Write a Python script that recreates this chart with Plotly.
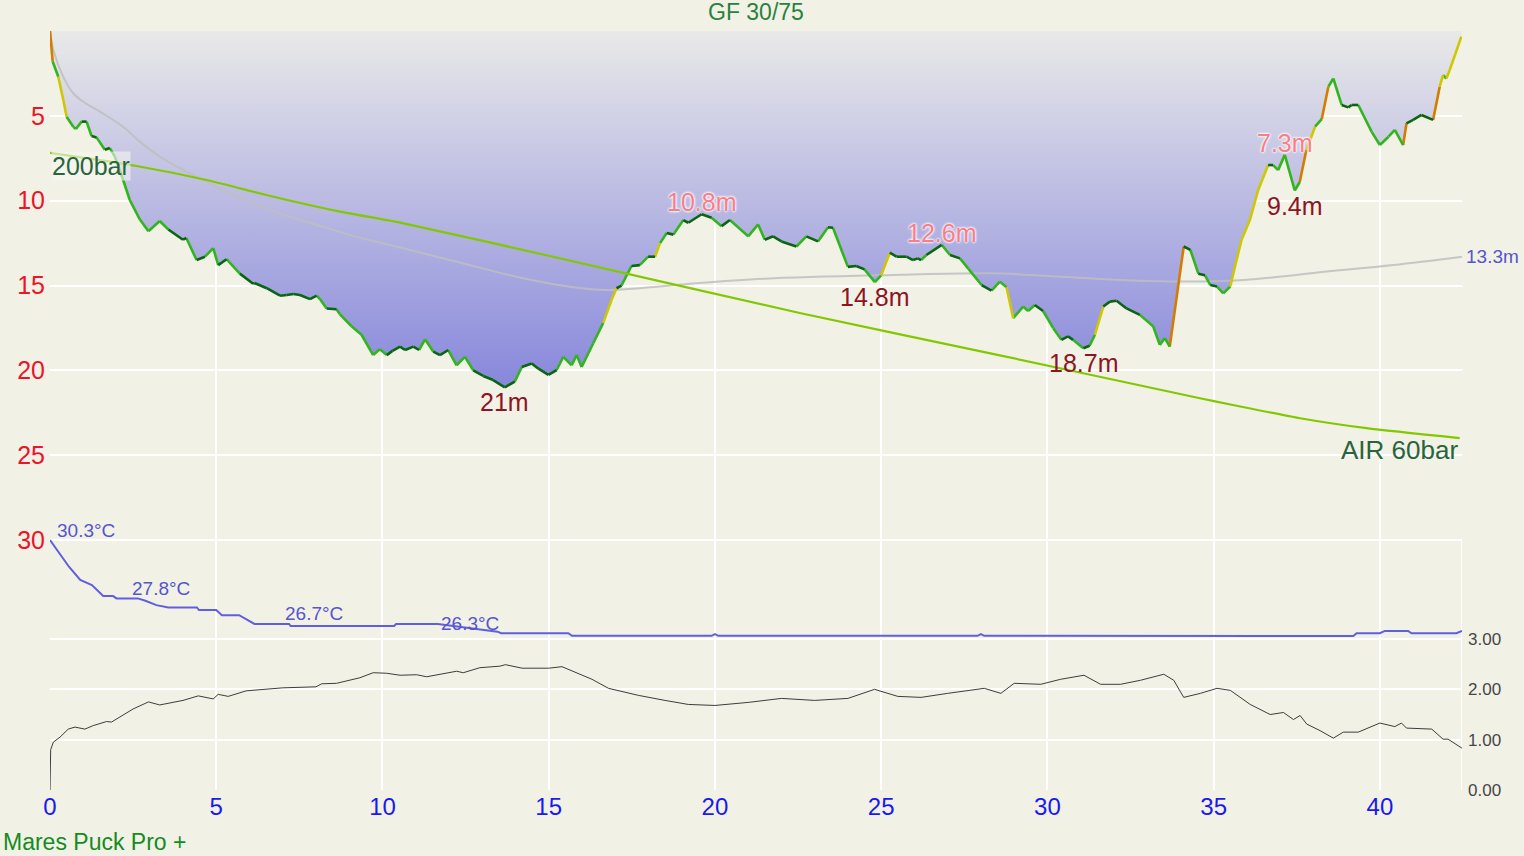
import plotly.graph_objects as go

# ---------------- data ----------------
time_min = [0, 0.08, 0.25, 0.4, 0.5, 0.7, 0.78, 0.95, 1.1, 1.25, 1.4, 1.65, 1.8, 1.95, 2.2, 2.4, 2.7, 2.96,
            3.3, 3.56, 4.0, 4.1, 4.41, 4.66, 4.91, 5.06, 5.31, 5.71, 6.11, 6.15, 6.52, 6.92, 7.12, 7.32, 7.52,
            7.82, 8.02, 8.12, 8.32, 8.62, 8.72, 9.07, 9.37, 9.72, 9.92, 10.13, 10.3, 10.53, 10.68, 10.93, 11.1,
            11.28, 11.53, 11.73, 11.98, 12.23, 12.48, 12.73, 13.03, 13.33, 13.68, 13.98, 14.19, 14.49, 14.69,
            14.99, 15.24, 15.44, 15.69, 15.84, 15.99, 16.34, 16.64, 16.89, 17.04, 17.19, 17.49, 17.74, 17.99,
            18.2, 18.35, 18.55, 18.75, 19.05, 19.2, 19.6, 19.9, 20.2, 20.45, 21.0, 21.3, 21.5, 21.75, 22.0,
            22.45, 22.75, 23.1, 23.4, 23.55, 24.0, 24.25, 24.5, 24.81, 25.0, 25.26, 25.46, 25.76, 25.96, 26.1,
            26.2, 26.36, 26.82, 27.07, 27.37, 27.62, 28.02, 28.32, 28.57, 28.77, 28.97, 29.27, 29.42, 29.62,
            29.87, 30.17, 30.42, 30.62, 30.77, 31.08, 31.27, 31.43, 31.68, 31.88, 32.08, 32.38, 32.78, 33.18,
            33.38, 33.53, 33.68, 34.1, 34.3, 34.54, 34.74, 34.9, 35.1, 35.29, 35.5, 35.69, 35.84, 36.09, 36.34,
            36.64, 36.79, 36.94, 37.14, 37.44, 37.59, 37.79, 38.05, 38.25, 38.45, 38.6, 38.85, 39.05, 39.15,
            39.35, 39.75, 40.0, 40.26, 40.45, 40.7, 40.8, 41.0, 41.25, 41.6, 41.8, 41.9, 42.0, 42.1, 42.26, 42.45]
depth_m = [0, 1.8, 2.7, 4.07, 5.05, 5.64, 5.78, 5.34, 5.34, 6.19, 6.27, 7.0, 6.9, 7.4, 8.78, 9.96, 11.1, 11.8,
           11.2, 11.7, 12.3, 12.2, 13.5, 13.3, 12.8, 13.8, 13.45, 14.3, 14.9, 14.85, 15.16, 15.6, 15.56, 15.5, 15.56,
           15.8, 15.6, 15.8, 16.35, 16.4, 16.7, 17.4, 17.9, 19.1, 18.76, 19.1, 18.85, 18.6, 18.8, 18.6, 18.8,
           18.17, 18.9, 19.1, 18.8, 19.7, 19.2, 20.0, 20.33, 20.57, 21.0, 20.66, 19.8, 19.6, 19.9,
           20.27, 19.98, 19.2, 19.7, 19.1, 19.8, 18.4, 17.2, 15.85, 15.16, 15.0, 13.85, 13.8, 13.3,
           13.3, 12.5, 11.9, 12.0, 11.14, 11.3, 10.8, 11.0, 11.5, 11.14, 12.1, 11.4, 12.3, 12.1, 12.4,
           12.7, 12.1, 12.4, 11.57, 11.6, 13.9, 13.85, 14.05, 14.8, 14.4, 13.06, 13.3, 13.3, 13.5, 13.4,
           13.5, 13.2, 12.6, 13.2, 13.4, 14.0, 14.97, 15.3, 14.77, 15.1, 16.93, 16.24, 16.5, 16.15,
           16.5, 17.5, 18.2, 18.0, 18.2, 18.7, 18.55, 17.9, 16.24, 15.95, 15.9, 16.35, 16.73, 17.4,
           18.5, 18.1, 18.6, 12.7, 12.9, 14.3, 14.4, 14.97, 15.06, 15.46, 15.06, 13.5, 12.3, 11.14, 9.37,
           7.9, 7.9, 8.2, 7.3, 9.4, 8.9, 7.0, 5.64, 5.2, 3.28, 2.8, 4.36, 4.5, 4.36,
           4.36, 5.93, 6.72, 6.23, 5.83, 6.72, 5.44, 5.24, 4.95, 5.24, 3.28, 2.6, 2.8, 2.3, 1.41, 0.33]

mean_time = [0, 0.1, 0.4, 0.7, 1.0, 1.5, 2.2, 2.7, 3.3, 4.2, 5.2, 6.2, 7.2, 8.2, 9.2, 10.2, 12.23, 14.23, 15.74,
             16.74, 17.74, 19.25, 21.5, 25.36, 28.37, 30.38, 33.4, 35.9, 38.4, 40.4, 42.47]
mean_depth = [0, 1.1, 2.7, 3.67, 4.17, 4.75, 5.64, 6.52, 7.4, 8.39, 9.37, 10.25, 10.94, 11.53, 12.12, 12.6, 13.6,
              14.57, 15.1, 15.26, 15.16, 14.9, 14.6, 14.38, 14.28, 14.48, 14.75, 14.67, 14.18, 13.79, 13.3]

temp_time = [0, 0.57, 0.91, 1.26, 1.6, 1.9, 2.0, 2.64, 2.87, 3.2, 3.56, 4.42, 4.48, 5.0, 5.17, 5.69, 6.15, 7.19,
             7.24, 10.35, 10.41, 11.67, 13.46, 13.57, 15.59, 15.7, 19.9, 20.0, 20.1, 27.9, 28.0, 28.1, 39.2,
             39.3, 40.0, 40.15, 40.85, 40.95, 42.3, 42.47]
temp_c = [30.3, 29.15, 28.58, 28.36, 27.89, 27.89, 27.79, 27.79, 27.69, 27.5, 27.4, 27.4, 27.29, 27.29, 27.07,
          27.07, 26.69, 26.69, 26.6, 26.6, 26.69, 26.69, 26.36, 26.29, 26.29, 26.18, 26.18, 26.25, 26.18, 26.18,
          26.25, 26.18, 26.17, 26.29, 26.29, 26.39, 26.39, 26.29, 26.29, 26.39]

press_time = [0, 2.6, 4.71, 6.72, 8.72, 10.53, 15.03, 22.55, 28.57, 34.59, 35.58, 37.6, 39.6, 42.4]
press_bar = [200, 193.6, 186.7, 178.5, 171.2, 165.8, 149.4, 121.4, 100.6, 79.5, 76.2, 69.7, 64.8, 59.9]

pn2_time = [0, 0.02, 0.1, 0.3, 0.55, 0.75, 1.05, 1.3, 1.7, 1.85, 2.5, 2.96, 3.3, 4.0, 4.46, 4.91, 5.06, 5.36,
            5.9, 6.5, 7.0, 8.0, 8.17, 8.62, 9.32, 9.72, 10.12, 10.53, 11.03, 11.33, 11.83, 12.23, 12.43, 12.93,
            13.53, 13.7, 14.2, 15.0, 15.4, 15.8, 16.3, 16.8, 17.7, 18.5, 19.2, 20.0, 21.0, 22.0, 23.0, 24.0,
            24.8, 25.5, 26.2, 27.0, 28.1, 28.6, 29.0, 29.8, 30.4, 31.1, 31.6, 32.2, 32.8, 33.5, 33.8, 34.1,
            34.6, 35.1, 35.5, 36.1, 36.7, 37.1, 37.4, 37.6, 37.8, 38.2, 38.6, 38.9, 39.35, 40.0, 40.45, 40.65,
            40.8, 41.56, 41.9, 42.05, 42.47]
pn2_bar = [0, 0.8, 0.95, 1.05, 1.21, 1.25, 1.21, 1.28, 1.36, 1.35, 1.61, 1.75, 1.69, 1.78, 1.87, 1.81, 1.9, 1.86,
           1.97, 2.01, 2.03, 2.05, 2.11, 2.12, 2.23, 2.33, 2.32, 2.28, 2.29, 2.25, 2.31, 2.36, 2.33, 2.43,
           2.46, 2.49, 2.42, 2.42, 2.45, 2.34, 2.2, 2.02, 1.88, 1.78, 1.7, 1.68, 1.74, 1.82, 1.78, 1.82,
           2.0, 1.86, 1.84, 1.92, 2.02, 1.92, 2.12, 2.1, 2.2, 2.28, 2.1, 2.1, 2.18, 2.3, 2.18, 1.84,
           1.92, 2.02, 1.98, 1.7, 1.5, 1.54, 1.4, 1.48, 1.31, 1.18, 1.03, 1.15, 1.15, 1.33, 1.26, 1.33,
           1.23, 1.21, 1.01, 1.01, 0.83]

x_ticks = [0, 5, 10, 15, 20, 25, 30, 35, 40]
depth_ticks = [0, 5, 10, 15, 20, 25, 30]
pn2_ticks = [0, 1, 2, 3]

depth_max_labels = [(13.68, 21.0), (24.81, 14.8), (31.08, 18.7), (37.44, 9.4)]
depth_min_labels = [(19.6, 10.8), (26.82, 12.6), (37.14, 7.3)]
temp_labels = [(0.15, 30.3), (2.4, 27.8), (7.0, 26.7), (11.7, 26.3)]

title_text = "GF 30/75"
computer_text = "Mares Puck Pro +"
gas_text = "AIR"

# ---------------- style ----------------
BG = "rgb(242,241,230)"
FONT = "Liberation Sans, Arial, sans-serif"
COL_STABLE = "rgb(10,100,20)"
COL_SLOW = "rgb(50,180,30)"
COL_MOD = "rgb(205,200,0)"
COL_FAST = "rgb(210,125,0)"
COL_CRAZY = "rgb(230,0,0)"


def speed_color(v):
    # v in m/min, positive = descending
    if v < -18.24:
        return COL_CRAZY
    if v < -9.12:
        return COL_FAST
    if v < -4.56:
        return COL_MOD
    if v < -1.5:
        return COL_SLOW
    if v < 1.5:
        return COL_STABLE
    if v < 9.12:
        return COL_SLOW
    if v < 18.24:
        return COL_MOD
    if v < 30.4:
        return COL_FAST
    return COL_CRAZY


fig = go.Figure()

# filled profile
fig.add_trace(go.Scatter(
    x=time_min, y=depth_m, mode="lines", line=dict(width=0),
    fill="tozeroy",
    fillgradient=dict(type="vertical", start=0, stop=21,
                      colorscale=[[0, "rgb(233,233,233)"], [1, "rgb(135,135,220)"]]),
    hoverinfo="skip", showlegend=False))

# mean depth
fig.add_trace(go.Scatter(x=mean_time, y=mean_depth, mode="lines",
                         line=dict(color="rgba(190,190,190,0.85)", width=2, shape="spline"),
                         hoverinfo="skip", showlegend=False))

# colored profile segments
segs = {}
for i in range(len(time_min) - 1):
    dt = time_min[i + 1] - time_min[i]
    v = (depth_m[i + 1] - depth_m[i]) / dt
    c = speed_color(v)
    segs.setdefault(c, ([], []))
    segs[c][0].extend([time_min[i], time_min[i + 1], None])
    segs[c][1].extend([depth_m[i], depth_m[i + 1], None])
for c, (xs, ys) in segs.items():
    fig.add_trace(go.Scatter(x=xs, y=ys, mode="lines", line=dict(color=c, width=2.6),
                             hoverinfo="skip", showlegend=False))

# pressure
fig.add_trace(go.Scatter(x=press_time, y=press_bar, yaxis="y4", mode="lines",
                         line=dict(color="rgb(130,200,0)", width=2.2, shape="spline", smoothing=0.6),
                         hoverinfo="skip", showlegend=False))

# temperature
fig.add_trace(go.Scatter(x=temp_time, y=temp_c, yaxis="y3", mode="lines",
                         line=dict(color="rgb(95,95,225)", width=2),
                         hoverinfo="skip", showlegend=False))

# pN2
fig.add_trace(go.Scatter(x=pn2_time, y=pn2_bar, yaxis="y2", mode="lines",
                         line=dict(color="rgb(60,60,60)", width=1),
                         hoverinfo="skip", showlegend=False))

ann = []
halo = "0px 0px 2px white, 0px 0px 3px white, 0px 0px 3px white"
for t, d in depth_max_labels:
    ann.append(dict(x=t, y=d, xref="x", yref="y", text=f"{d:g}m", showarrow=False,
                    yanchor="middle", yshift=-15,
                    font=dict(family=FONT, size=25, color="rgb(140,20,35)")))
for t, d in depth_min_labels:
    ann.append(dict(x=t, y=d, xref="x", yref="y", text=f"{d:g}m", showarrow=False,
                    yanchor="middle", yshift=12,
                    font=dict(family=FONT, size=25, color="rgb(250,125,135)", shadow=halo)))
for t, c in temp_labels:
    ann.append(dict(x=t, y=c, xref="x", yref="y3", text=f"{c:.1f}°C", showarrow=False,
                    xanchor="left", yanchor="middle", yshift=10,
                    font=dict(family=FONT, size=19, color="rgb(85,85,205)")))
ann.append(dict(x=mean_time[-1], y=mean_depth[-1], xref="x", yref="y", text=f"{mean_depth[-1]:.1f}m",
                showarrow=False, xanchor="left", yanchor="middle", xshift=2,
                font=dict(family=FONT, size=19, color="rgb(85,85,205)")))
ann.append(dict(x=press_time[0], y=press_bar[0], xref="x", yref="y4", text=f"{press_bar[0]:.0f}bar",
                showarrow=False, xanchor="left", yanchor="middle", xshift=1, yshift=-13,
                bgcolor="rgba(245,245,240,0.6)", borderpad=0,
                font=dict(family=FONT, size=25, color="rgb(40,100,60)")))
ann.append(dict(x=press_time[-1], y=press_bar[-1], xref="x", yref="y4", text=f"{gas_text} {press_bar[-1]:.0f}bar",
                showarrow=False, xanchor="right", yanchor="middle", yshift=-12,
                font=dict(family=FONT, size=26, color="rgb(40,100,60)")))
ann.append(dict(x=0.5, y=1, xref="paper", yref="paper", text=title_text, showarrow=False,
                yanchor="middle", yshift=19,
                font=dict(family=FONT, size=23, color="rgb(40,130,60)")))
ann.append(dict(x=0, y=0, xref="paper", yref="paper", text=computer_text, showarrow=False,
                xanchor="left", yanchor="middle", xshift=-49, yshift=-52,
                font=dict(family=FONT, size=23, color="rgb(20,140,30)")))

shapes = [dict(type="line", xref="x", yref="y", x0=time_min[-1] + 0.02, x1=time_min[-1] + 0.02,
               y0=30, y1=44.73, line=dict(color="white", width=2), layer="below")]

fig.update_layout(
    width=1524, height=856,
    margin=dict(l=50, r=62, t=31, b=66),
    paper_bgcolor=BG, plot_bgcolor=BG,
    showlegend=False,
    annotations=ann, shapes=shapes,
    xaxis=dict(range=[0, 42.47], tickvals=x_ticks, showgrid=True, gridcolor="white", gridwidth=2,
               zeroline=False, showline=False, ticks="",
               tickfont=dict(family=FONT, size=24, color="rgb(25,25,240)")),
    yaxis=dict(range=[44.73, 0], tickvals=depth_ticks, ticktext=[""] + [str(v) for v in depth_ticks[1:]],
               showgrid=True, gridcolor="white", gridwidth=2, zeroline=False, showline=False, ticks="",
               ticklabelstandoff=4,
               tickfont=dict(family=FONT, size=25, color="rgb(235,20,40)")),
    yaxis2=dict(range=[0, 15.08], overlaying="y", side="right", tickvals=pn2_ticks,
                ticktext=[f"{v:.2f}" for v in pn2_ticks], showgrid=True, gridcolor="white", gridwidth=2,
                zeroline=False, showline=False, ticks="", ticklabelstandoff=5,
                tickfont=dict(family=FONT, size=17, color="rgb(70,70,70)")),
    yaxis3=dict(range=[19.55, 52.19], overlaying="y", visible=False),
    yaxis4=dict(range=[-112.9, 259.9], overlaying="y", visible=False),
)

fig.write_html("out.html", config={"displayModeBar": False},
               post_script="document.body.style.margin='0';document.body.style.overflow='hidden';")
